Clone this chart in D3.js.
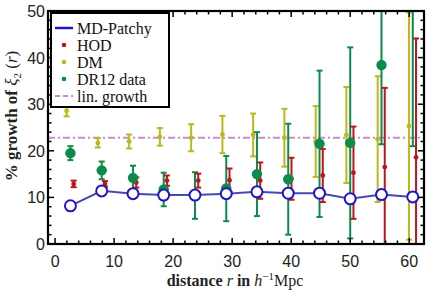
<!DOCTYPE html>
<html>
<head>
<meta charset="utf-8">
<style>
  body { margin: 0; background: #fff; }
  svg { display: block; }
  .tick-label { font-family: "Liberation Sans", Arial, sans-serif; font-size: 16px; fill: #222; }
  .serif { font-family: "Liberation Serif", "DejaVu Serif", "Times New Roman", serif; }
</style>
</head>
<body>
<svg id="chart" width="429" height="294"></svg>
<script src="https://d3js.org/d3.v7.min.js"></script>
<script>
// bin centres, h^-1 Mpc
const r = [2.6, 7.9, 13.2, 18.4, 23.7, 29.0, 34.2, 39.5, 44.8, 50.0, 55.3, 60.6];

const patchy = [8.2, 11.4, 10.8, 10.5, 10.5, 10.8, 11.2, 10.9, 10.9, 9.7, 10.6, 10.1];

const hod    = [12.9, 12.9, 13.2, 13.6, 13.6, 13.7, 13.6, 14.0, 14.7, 15.3, 16.5, 18.6];
const hodErr = [0.7, 0.6, 1.1, 1.1, 1.5, 2.5, 3.9, 4.5, 5.7, 9.9, 17.0, 25.5];

const dm    = [28.6, 21.7, 22.0, 23.0, 22.8, 23.5, 23.4, 22.8, 22.0, 23.4, 22.5, 25.3];
const dmErr = [1.2, 1.0, 1.5, 1.9, 2.9, 4.0, 4.6, 6.2, 7.6, 10.3, 13.5, 24.4];

const dr12    = [19.5, 15.8, 14.2, 11.7, 10.4, 11.9, 15.0, 13.9, 21.5, 21.7, 38.4, 57.0];
const dr12Err = [1.5, 1.9, 2.6, 3.6, 5.0, 7.0, 9.0, 11.9, 15.7, 20.5, 17.0, 36.0];

const linGrowth = 22.8;

const xTicks = [0, 10, 20, 30, 40, 50, 60];
const yTicks = [0, 10, 20, 30, 40, 50];

const legendLabels = ["MD-Patchy", "HOD", "DM", "DR12 data", "lin. growth"];

const C = {
  blue: "#2414c8", blueLine: "#4848b4",
  red: "#c0141c", yellow: "#bcb81c", green: "#0c8c4c", pink: "#cc8ad2"
};
const SERIF = "'Liberation Serif', 'DejaVu Serif', 'Times New Roman', serif";

const svg = d3.select("#chart");
const x = d3.scaleLinear().domain([-1.2, 62.5]).range([48, 424]);
const y = d3.scaleLinear().domain([0, 50]).range([244, 11]);

svg.append("clipPath").attr("id", "clip")
  .append("rect").attr("x", 48).attr("y", 11).attr("width", 376).attr("height", 233);

const plot = svg.append("g").attr("clip-path", "url(#clip)");

// lin. growth
plot.append("line")
  .attr("x1", x.range()[0]).attr("x2", x.range()[1])
  .attr("y1", y(linGrowth)).attr("y2", y(linGrowth))
  .attr("stroke", C.pink).attr("stroke-width", 2)
  .attr("stroke-dasharray", "7,3,2,3");

// error bars
function errorBars(vals, errs, dx, color, width) {
  const g = plot.append("g").attr("stroke", color).attr("stroke-width", width);
  vals.forEach((v, i) => {
    const px = x(r[i] + dx);
    const lo = y(v - errs[i]), hi = y(v + errs[i]);
    g.append("line").attr("x1", px).attr("x2", px).attr("y1", lo).attr("y2", hi);
    g.append("line").attr("x1", px - 3).attr("x2", px + 3).attr("y1", lo).attr("y2", lo);
    g.append("line").attr("x1", px - 3).attr("x2", px + 3).attr("y1", hi).attr("y2", hi);
  });
}

errorBars(dm, dmErr, -0.65, C.yellow, 2);
errorBars(dr12, dr12Err, 0, C.green, 2);
errorBars(hod, hodErr, 0.55, C.red, 2);

plot.selectAll(".dm").data(dm).enter().append("circle")
  .attr("cx", (d, i) => x(r[i] - 0.65)).attr("cy", d => y(d))
  .attr("r", 2.4).attr("fill", C.yellow);

plot.selectAll(".hod").data(hod).enter().append("circle")
  .attr("cx", (d, i) => x(r[i] + 0.55)).attr("cy", d => y(d))
  .attr("r", 2.4).attr("fill", C.red);

plot.selectAll(".dr12").data(dr12).enter().append("circle")
  .attr("cx", (d, i) => x(r[i])).attr("cy", d => y(d))
  .attr("r", 5.2).attr("fill", C.green);

// MD-Patchy line + open circles
plot.append("path")
  .datum(patchy)
  .attr("fill", "none").attr("stroke", C.blueLine).attr("stroke-width", 2)
  .attr("d", d3.line().x((d, i) => x(r[i])).y(d => y(d)));

plot.selectAll(".patchy").data(patchy).enter().append("circle")
  .attr("cx", (d, i) => x(r[i])).attr("cy", d => y(d))
  .attr("r", 5.5).attr("fill", "#fff").attr("stroke", C.blue).attr("stroke-width", 2);

// frame + inward ticks on all sides
const x0 = x.range()[0], x1 = x.range()[1], y0 = y.range()[0], y1 = y.range()[1];
const ax = svg.append("g").attr("stroke", "#000");

d3.range(0, 62, 2).forEach(t => {
  const len = t % 10 === 0 ? 6 : 3.5;
  ax.append("line").attr("x1", x(t)).attr("x2", x(t)).attr("y1", y0).attr("y2", y0 - len).attr("stroke-width", 1.5);
  ax.append("line").attr("x1", x(t)).attr("x2", x(t)).attr("y1", y1).attr("y2", y1 + len).attr("stroke-width", 1.5);
});
d3.range(0, 51, 2).forEach(t => {
  const len = t % 10 === 0 ? 6 : 3.5;
  ax.append("line").attr("y1", y(t)).attr("y2", y(t)).attr("x1", x0).attr("x2", x0 + len).attr("stroke-width", 1.5);
  ax.append("line").attr("y1", y(t)).attr("y2", y(t)).attr("x1", x1).attr("x2", x1 - len).attr("stroke-width", 1.5);
});

svg.append("rect")
  .attr("x", x0).attr("y", y1).attr("width", x1 - x0).attr("height", y0 - y1)
  .attr("fill", "none").attr("stroke", "#000").attr("stroke-width", 2.2);

svg.selectAll(".xt").data(xTicks).enter().append("text")
  .attr("class", "tick-label")
  .attr("x", d => x(d)).attr("y", 267)
  .attr("text-anchor", "middle").text(d => d);

svg.selectAll(".yt").data(yTicks).enter().append("text")
  .attr("class", "tick-label")
  .attr("x", 45).attr("y", d => y(d) + 6)
  .attr("text-anchor", "end").text(d => d);

// axis titles
const xl = svg.append("text").attr("font-family", SERIF).style("font-family", SERIF)
  .attr("x", 235).attr("y", 286).attr("text-anchor", "middle")
  .attr("font-size", 16).attr("fill", "#222");
xl.append("tspan").attr("font-weight", "bold").text("distance ");
xl.append("tspan").attr("font-style", "italic").text("r");
xl.append("tspan").attr("font-weight", "bold").text(" in ");
xl.append("tspan").attr("font-style", "italic").text("h");
xl.append("tspan").attr("font-size", 11).attr("dy", -6).text("−1");
xl.append("tspan").attr("dy", 6).text("Mpc");

const yl = svg.append("text").attr("font-family", SERIF).style("font-family", SERIF)
  .attr("transform", "translate(17,116) rotate(-90)")
  .attr("text-anchor", "middle").attr("font-size", 17).attr("fill", "#222");
yl.append("tspan").attr("font-weight", "bold").text("% growth of ");
yl.append("tspan").attr("font-style", "italic").text("ξ");
yl.append("tspan").attr("font-size", 11).attr("dy", 4).text("2");
yl.append("tspan").attr("dy", -4).text(" (");
yl.append("tspan").attr("font-style", "italic").text("r");
yl.append("tspan").text(")");

// legend
const lg = svg.append("g");
lg.append("rect").attr("x", 51).attr("y", 13).attr("width", 118).attr("height", 94)
  .attr("fill", "#fff").attr("stroke", "#000").attr("stroke-width", 2);

legendLabels.forEach((lab, i) => {
  const cy = 28 + i * 17;
  if (i === 0) {
    lg.append("line").attr("x1", 55).attr("x2", 73).attr("y1", cy).attr("y2", cy)
      .attr("stroke", C.blue).attr("stroke-width", 2.5);
  } else if (i === 4) {
    lg.append("line").attr("x1", 55).attr("x2", 73).attr("y1", cy).attr("y2", cy)
      .attr("stroke", C.pink).attr("stroke-width", 2).attr("stroke-dasharray", "5,3");
  } else {
    const col = [null, C.red, C.yellow, C.green][i];
    lg.append("circle").attr("cx", 64).attr("cy", cy).attr("r", 2.3).attr("fill", col);
  }
  lg.append("text").attr("font-family", SERIF).style("font-family", SERIF)
    .attr("x", 77).attr("y", cy + 5.5).attr("font-size", 16).attr("fill", "#111")
    .text(lab);
});
</script>
</body>
</html>
